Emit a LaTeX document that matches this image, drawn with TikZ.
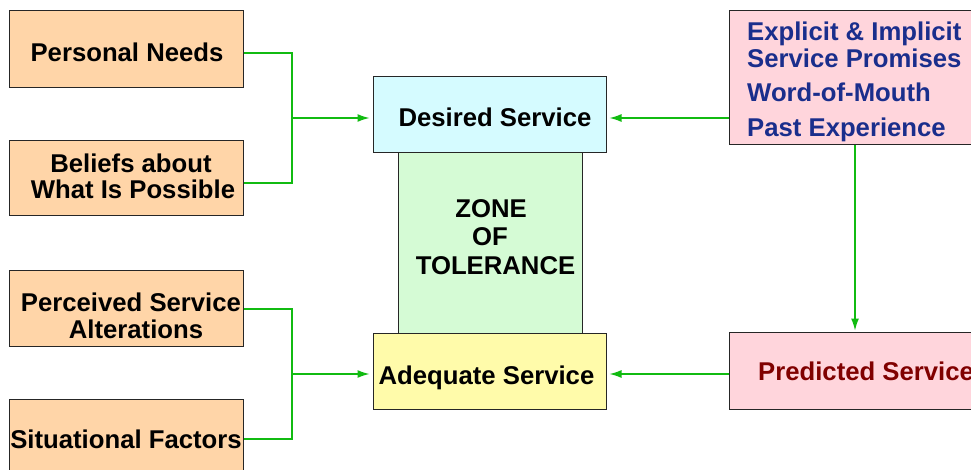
\documentclass[tikz,border=0pt]{standalone}
\usepackage{fontspec}
\setmainfont{Liberation Sans}
\usetikzlibrary{arrows.meta}
\definecolor{boxorange}{HTML}{FFD5A8}
\definecolor{boxcyan}{HTML}{D5FBFF}
\definecolor{boxgreen}{HTML}{D5FBD5}
\definecolor{boxyellow}{HTML}{FFFBAA}
\definecolor{boxpink}{HTML}{FFD5DC}
\definecolor{linegreen}{HTML}{11BB11}
\definecolor{navytext}{HTML}{1A2E8C}
\definecolor{maroontext}{HTML}{800000}
\tikzset{
  box/.style={draw=black!85, line width=1pt, rectangle, inner sep=0pt},
  lbl/.style={inner sep=0pt, anchor=base, font=\fontsize{25.7}{27}\selectfont\bfseries},
  lblw/.style={lbl, anchor=base west},
  conn/.style={draw=linegreen, line width=1.3pt},
  arrowc/.style={conn, -{Latex[length=12pt,width=8pt]}},
}
\begin{document}
\begin{tikzpicture}[x=1pt,y=-1pt]
\useasboundingbox (0,0) rectangle (971,470);

% influencing factors on the left
\node[box, fill=boxorange, minimum width=234, minimum height=77] (pn) at (126,49) {};
\node[box, fill=boxorange, minimum width=234, minimum height=75] (bel) at (126,178.5) {};
\node[box, fill=boxorange, minimum width=234, minimum height=76] (psa) at (126,308) {};
\node[box, fill=boxorange, minimum width=234, minimum height=76] (sit) at (126,437) {};
\node[lbl] (pntxt) at (127,62) {Personal Needs};
\node[lbl] (beltxta) at (131,173) {Beliefs about};
\node[lbl] (beltxtb) at (133,199) {What Is Possible};
\node[lbl] (psatxta) at (131,311) {Perceived Service};
\node[lbl] (psatxtb) at (136,338) {Alterations};
\node[lbl] (sittxt) at (126,448) {Situational Factors};

% central service levels
\node[box, fill=boxgreen, minimum width=184, minimum height=180] (zone) at (490,243) {};
\node[lbl] (zonea) at (491,218) {ZONE};
\node[lbl] (zoneb) at (490,246) {OF};
\node[lbl] (zonec) at (495.5,274) {TOLERANCE};
\node[box, fill=boxcyan, minimum width=233, minimum height=76] (des) at (489.5,115) {};
\node[lbl] (destxt) at (495,127) {Desired Service};
\node[box, fill=boxyellow, minimum width=233, minimum height=76] (adq) at (489.5,371) {};
\node[lbl] (adqtxt) at (486.5,384) {Adequate Service};

% expectation sources on the right
\node[box, fill=boxpink, minimum width=251, minimum height=134] (exp) at (854.5,78) {};
\node[lblw, text=navytext] (expa) at (747,41) {Explicit \& Implicit};
\node[lblw, text=navytext] (expb) at (747,68) {Service Promises};
\node[lblw, text=navytext] (expc) at (747,102) {Word-of-Mouth};
\node[lblw, text=navytext] (expd) at (747,137) {Past Experience};
\node[box, fill=boxpink, minimum width=251, minimum height=77] (pred) at (854.5,370.5) {};
\node[lblw, text=maroontext] (predtxt) at (758,380) {Predicted Service};

% connectors
\coordinate (jtop) at (292,118);
\coordinate (jbot) at (292,374);
\draw[conn] ([yshift=-4pt]pn.east) -| (jtop) |- ([yshift=-4.5pt]bel.east);
\draw[arrowc, shorten >=3pt] (jtop) -- (des.west |- jtop);
\draw[conn] ([yshift=-1pt]psa.east) -| (jbot) |- ([yshift=-2pt]sit.east);
\draw[arrowc, shorten >=3pt] (jbot) -- (adq.west |- jbot);

\draw[arrowc, shorten >=3pt] (exp.west |- jtop) -- (des.east |- jtop);
\draw[arrowc, shorten >=1pt] (exp.south -| 855,0) -- (pred.north -| 855,0);
\draw[arrowc, shorten >=3pt] (pred.west |- jbot) -- (adq.east |- jbot);
\end{tikzpicture}
\end{document}
